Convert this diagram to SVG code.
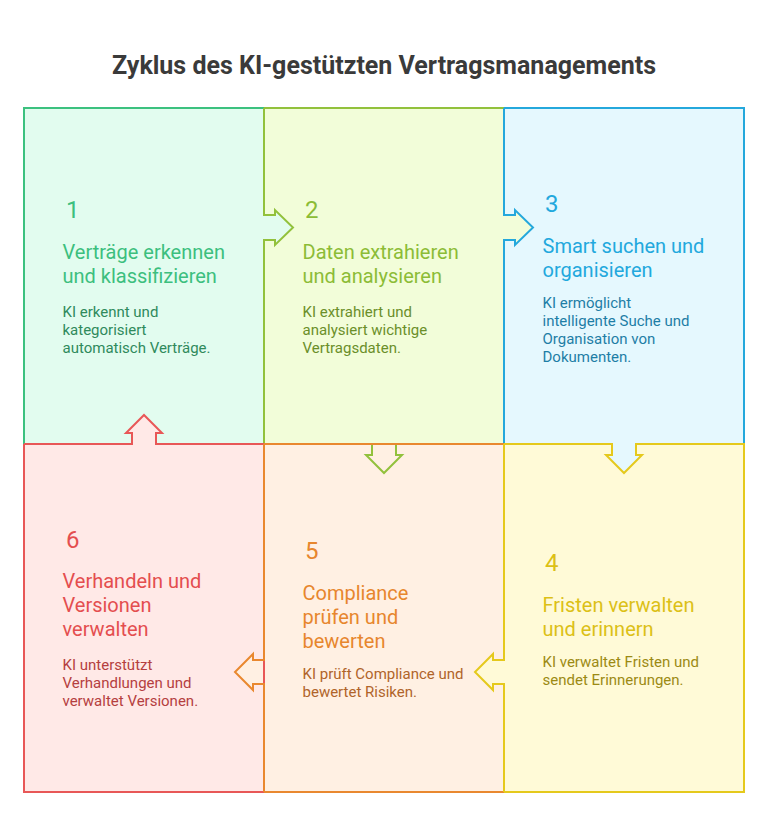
<svg xmlns="http://www.w3.org/2000/svg" width="768" height="840" viewBox="0 0 768 840">
<style>
text{font-family:Roboto,"Liberation Sans",sans-serif}
.ttl{font-size:25px;font-weight:700;fill:#3a3a3a}
.num{font-size:24px}
.hd{font-size:20px}
.bd{font-size:15px}
.s{fill:none;stroke-width:2}
.c1{fill:#3cbf7e}.b1{fill:#2f8a5c}
.c2{fill:#8cbc36}.b2{fill:#6b8f2a}
.c3{fill:#22a8dd}.b3{fill:#1e7ea6}
.c4{fill:#dcc016}.b4{fill:#9c8a14}
.c5{fill:#e7862d}.b5{fill:#b0642a}
.c6{fill:#e44e4f}.b6{fill:#b53f3f}
</style>
<rect width="768" height="840" fill="#ffffff"/>
<text class="ttl" x="384" y="74" text-anchor="middle">Zyklus des KI-gestützten Vertragsmanagements</text>

<g id="fills">
<rect x="24" y="108" width="240" height="336" fill="#e2fcef"/>
<rect x="264" y="108" width="240" height="336" fill="#f2fdd9"/>
<rect x="504" y="108" width="240" height="336" fill="#e5f8fe"/>
<rect x="24" y="444" width="240" height="348" fill="#ffe9e7"/>
<rect x="264" y="444" width="240" height="348" fill="#fff0e3"/>
<rect x="504" y="444" width="240" height="348" fill="#fffad7"/>
</g>

<g id="connectors">
<polygon points="263,215 275,215 275,210 293,227.5 275,245 275,240 263,240" fill="#e2fcef"/>
<polygon points="503,215 515,215 515,210 533,227.5 515,245 515,240 503,240" fill="#f2fdd9"/>
<polygon points="612,443 612,455 606,455 624,473 642,455 636,455 636,443" fill="#e5f8fe"/>
<polygon points="505,660 493,660 493,654 475,672 493,690 493,684 505,684" fill="#fffad7"/>
<polygon points="265,660 253,660 253,654 235,672 253,690 253,684 265,684" fill="#fff0e3"/>
<polygon points="132,445 132,433 126,433 144,415 162,433 156,433 156,445" fill="#ffe9e7"/>
<path class="s" stroke="#92c13c" d="M372,445 V455 H366 L384,473 L402,455 H396 V445"/>
</g>

<g id="node1">
<path class="s" stroke="#3cc17f" d="M264,108 H24 V444"/>
<text class="num c1" x="66" y="218">1</text>
<text class="hd c1" x="62.5" y="259">Verträge erkennen</text>
<text class="hd c1" x="62.5" y="283">und klassifizieren</text>
<text class="bd b1" x="62.5" y="317">KI erkennt und</text>
<text class="bd b1" x="62.5" y="335">kategorisiert</text>
<text class="bd b1" x="62.5" y="353">automatisch Verträge.</text>
</g>

<g id="node2">
<path class="s" stroke="#92c13c" d="M264,108 H504 M264,108 V215 H275 V210 L293,227.5 L275,245 V240 H264 V444"/>
<text class="num c2" x="305" y="218">2</text>
<text class="hd c2" x="302.5" y="259">Daten extrahieren</text>
<text class="hd c2" x="302.5" y="283">und analysieren</text>
<text class="bd b2" x="302.5" y="317">KI extrahiert und</text>
<text class="bd b2" x="302.5" y="335">analysiert wichtige</text>
<text class="bd b2" x="302.5" y="353">Vertragsdaten.</text>
</g>

<g id="node3">
<path class="s" stroke="#24a8dc" d="M504,108 H744 V444 M504,108 V215 H515 V210 L533,227.5 L515,245 V240 H504 V444"/>
<text class="num c3" x="545" y="212">3</text>
<text class="hd c3" x="542.5" y="253">Smart suchen und</text>
<text class="hd c3" x="542.5" y="277">organisieren</text>
<text class="bd b3" x="542.5" y="308">KI ermöglicht</text>
<text class="bd b3" x="542.5" y="326">intelligente Suche und</text>
<text class="bd b3" x="542.5" y="344">Organisation von</text>
<text class="bd b3" x="542.5" y="362">Dokumenten.</text>
</g>

<g id="node6">
<path class="s" stroke="#e85757" d="M24,444 V792 H264 V444 M24,444 H132 V433 H126 L144,415 L162,433 H156 V444 H264"/>
<text class="num c6" x="66" y="548">6</text>
<text class="hd c6" x="62.5" y="588">Verhandeln und</text>
<text class="hd c6" x="62.5" y="612">Versionen</text>
<text class="hd c6" x="62.5" y="636">verwalten</text>
<text class="bd b6" x="62.5" y="670">KI unterstützt</text>
<text class="bd b6" x="62.5" y="688">Verhandlungen und</text>
<text class="bd b6" x="62.5" y="706">verwaltet Versionen.</text>
</g>

<g id="node5">
<path class="s" stroke="#e9882f" d="M264,444 H504 M264,792 H504 M264,444 V660 H253 V654 L235,672 L253,690 V684 H264 V792"/>
<text class="num c5" x="305" y="559">5</text>
<text class="hd c5" x="302.5" y="600">Compliance</text>
<text class="hd c5" x="302.5" y="624">prüfen und</text>
<text class="hd c5" x="302.5" y="648">bewerten</text>
<text class="bd b5" x="302.5" y="679">KI prüft Compliance und</text>
<text class="bd b5" x="302.5" y="697">bewertet Risiken.</text>
</g>

<g id="node4">
<path class="s" stroke="#e5c91c" d="M504,444 H612 V455 H606 L624,473 L642,455 H636 V444 H744 V792 H504 M504,444 V660 H493 V654 L475,672 L493,690 V684 H504 V792"/>
<text class="num c4" x="545" y="571">4</text>
<text class="hd c4" x="542.5" y="612">Fristen verwalten</text>
<text class="hd c4" x="542.5" y="636">und erinnern</text>
<text class="bd b4" x="542.5" y="667">KI verwaltet Fristen und</text>
<text class="bd b4" x="542.5" y="685">sendet Erinnerungen.</text>
</g>
</svg>
